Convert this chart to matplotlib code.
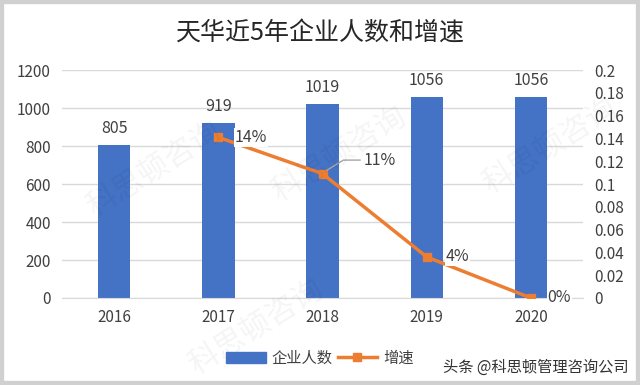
import matplotlib
matplotlib.use("Agg")
import matplotlib.pyplot as plt
from matplotlib.patches import Rectangle
from matplotlib.lines import Line2D
from matplotlib.patches import Patch

plt.rcParams['font.family'] = ['Noto Sans CJK SC', 'DejaVu Sans']

years = ['2016', '2017', '2018', '2019', '2020']
staff = [805, 919, 1019, 1056, 1056]
growth_years = ['2017', '2018', '2019', '2020']
growth = [0.141, 0.109, 0.036, 0.0]
growth_labels = ['14%', '11%', '4%', '0%']

blue = '#4472C4'
orange = '#ED7D31'
txt = '#404040'

fig = plt.figure(figsize=(6.4, 3.85), dpi=100)
ax = fig.add_axes([0.097, 0.226, 0.814, 0.592])

x = list(range(len(years)))
ax.bar(x, staff, width=0.31, color=blue, zorder=2)
for xi, v in zip(x, staff):
    ax.text(xi, v + 45, str(v), ha='center', va='bottom', fontsize=11.5, color=txt)

ax.set_ylim(0, 1200)
ax.set_xlim(-0.5, 4.5)
ax.set_yticks(range(0, 1201, 200))
ax.set_xticks(x)
ax.set_xticklabels(years)
ax.grid(axis='y', color='#d9d9d9', linewidth=1, zorder=0)
for s in ax.spines.values():
    s.set_visible(False)
ax.spines['bottom'].set_visible(True)
ax.spines['bottom'].set_color('#d9d9d9')
ax.tick_params(axis='both', length=0, labelsize=11, colors=txt, pad=8)

ax2 = ax.twinx()
gx = [years.index(y) for y in growth_years]
ax2.plot(gx, growth, color=orange, linewidth=2.5, marker='s', markersize=5.5, zorder=3)
ax2.set_ylim(0, 0.2)
ax2.set_yticks([i / 100 for i in range(0, 21, 2)])
ax2.set_yticklabels(['0'] + [f'{i / 100:g}' for i in range(2, 21, 2)])
for s in ax2.spines.values():
    s.set_visible(False)
ax2.tick_params(axis='y', length=0, labelsize=11, colors=txt, pad=8)

offsets = [(0.16, 0.0), (0.39, 0.012), (0.18, 0.0), (0.16, 0.0)]
for xi, v, lab, (dx, dy) in zip(gx, growth, growth_labels, offsets):
    ax2.text(xi + dx, v + dy, lab, ha='left', va='center', fontsize=11.5, color=txt,
             zorder=5, bbox=dict(boxstyle='square,pad=0.05', fc='white', ec='none'))
# leader line for 11%
i18 = growth_years.index('2018')
ax2.plot([gx[i18] + 0.04, gx[i18] + 0.2, gx[i18] + 0.36],
         [growth[i18] + 0.003, growth[i18] + 0.012, growth[i18] + 0.012],
         color='#a6a6a6', linewidth=1, zorder=4)

fig.text(0.5, 0.914, '天华近5年企业人数和增速', ha='center', va='center',
         fontsize=18, color='#262626')

handles = [Patch(color=blue, label='企业人数'),
           Line2D([], [], color=orange, linewidth=2.5, marker='s', markersize=5.5, label='增速')]
fig.legend(handles=handles, loc='center', bbox_to_anchor=(0.5, 0.07), ncol=2,
           frameon=False, fontsize=11, handlelength=2.6, columnspacing=0.3,
           handletextpad=0.4, labelcolor=txt)

# watermarks
for wx, wy in [(0.24, 0.56), (0.53, 0.6), (0.86, 0.62), (0.4, 0.15)]:
    fig.text(wx, wy, '科思顿咨询', rotation=32, fontsize=22, color='#000000',
             alpha=0.045, ha='center', va='center')

fig.text(0.982, 0.047, '头条 @科思顿管理咨询公司', ha='right', va='center',
         fontsize=11, color='#333333')

fig.patches.append(Rectangle((0, 0), 1, 1, transform=fig.transFigure, fill=False,
                             edgecolor='#d0d0d0', linewidth=6))

fig.savefig('out.png', dpi=100)
